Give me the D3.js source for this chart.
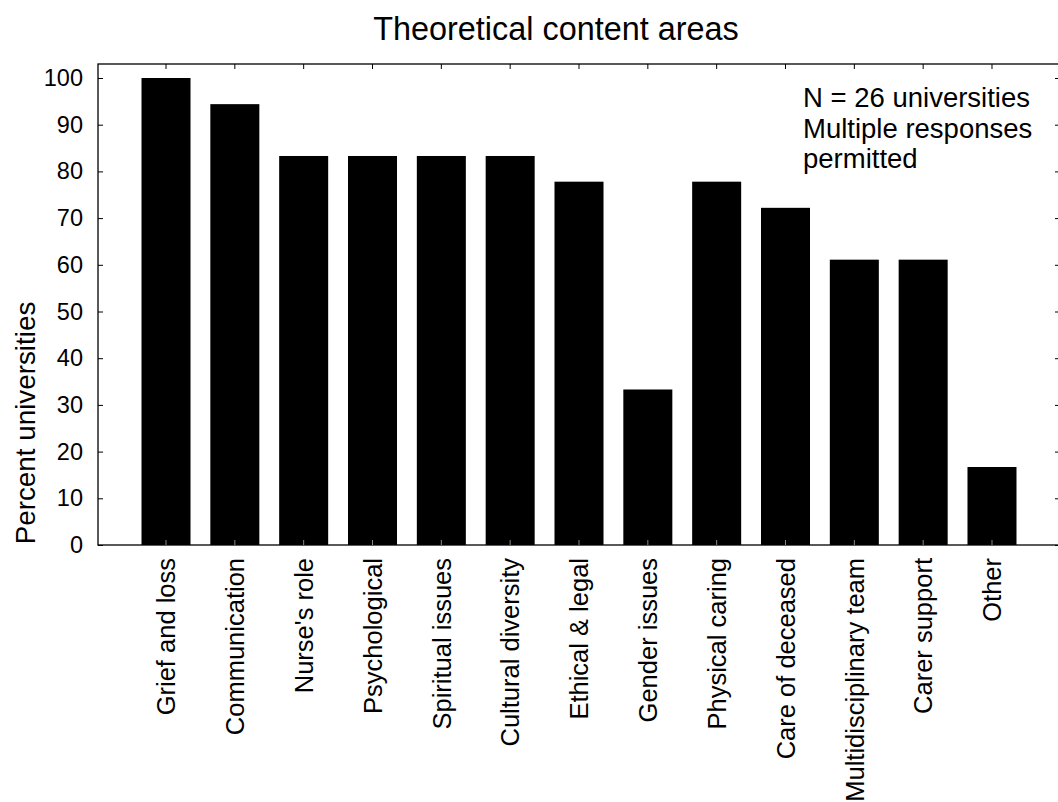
<!DOCTYPE html>
<html>
<head>
<meta charset="utf-8">
<script src="https://cdn.jsdelivr.net/npm/d3@7"></script>
<style>
  html, body { margin: 0; padding: 0; background: #fff; }
  svg { display: block; }
  text { font-family: "Liberation Sans", Arial, Helvetica, sans-serif; fill: #000; }
</style>
</head>
<body>
<svg id="chart" width="1058" height="802"></svg>
<script>
const categories = ["Grief and loss", "Communication", "Nurse's role", "Psychological",
  "Spiritual issues", "Cultural diversity", "Ethical & legal", "Gender issues",
  "Physical caring", "Care of deceased", "Multidisciplinary team", "Carer support", "Other"];
const values = [100, 94.4, 83.3, 83.3, 83.3, 83.3, 77.8, 33.3, 77.8, 72.2, 61.1, 61.1, 16.7];
const yTicks = [0, 10, 20, 30, 40, 50, 60, 70, 80, 90, 100];
const titleText = "Theoretical content areas";
const yLabel = "Percent universities";
const noteLines = ["N = 26 universities", "Multiple responses", "permitted"];

const svg = d3.select("#chart");
const plotL = 98, plotR = 1060, plotT = 64, plotB = 545;

const x = d3.scaleBand().domain(categories).range([plotL, plotR])
  .paddingInner(0.288).paddingOuter(0.632);
const y = d3.scaleLinear().domain([0, 100]).range([plotB, 78]);

// bars
svg.append("g").selectAll("rect").data(categories).join("rect")
  .attr("x", d => x(d))
  .attr("width", x.bandwidth())
  .attr("y", (d, i) => y(values[i]))
  .attr("height", (d, i) => plotB - y(values[i]))
  .attr("fill", "#000");

// frame
svg.append("rect").attr("x", plotL).attr("y", plotT)
  .attr("width", plotR - plotL).attr("height", plotB - plotT)
  .attr("fill", "none").attr("stroke", "#000").attr("stroke-width", 1.3);

// left axis (inward ticks)
const yAxisL = svg.append("g").attr("transform", `translate(${plotL},0)`)
  .call(d3.axisLeft(y).tickValues(yTicks).tickSizeInner(-5).tickSizeOuter(0).tickPadding(15));
yAxisL.select(".domain").remove();
yAxisL.selectAll("text").style("font-size", "23.5px")
  .style("font-family", '"Liberation Sans", Arial, sans-serif');
yAxisL.selectAll("line").attr("stroke", "#000");

// right axis ticks
const yAxisR = svg.append("g").attr("transform", `translate(${plotR},0)`)
  .call(d3.axisRight(y).tickValues(yTicks).tickSizeInner(-5).tickSizeOuter(0).tickFormat(""));
yAxisR.select(".domain").remove();

// top ticks
const xTop = svg.append("g").attr("transform", `translate(0,${plotT})`)
  .call(d3.axisTop(x).tickSizeInner(-5).tickSizeOuter(0).tickFormat(""));
xTop.select(".domain").remove();

// bottom ticks + labels
const xBot = svg.append("g").attr("transform", `translate(0,${plotB})`)
  .call(d3.axisBottom(x).tickSizeInner(-5).tickSizeOuter(0));
xBot.select(".domain").remove();
xBot.selectAll("line").attr("stroke", "#888");
xBot.selectAll("text")
  .style("font-size", "25.5px")
  .style("font-family", '"Liberation Sans", Arial, sans-serif')
  .attr("text-anchor", "end")
  .attr("transform", "rotate(-90)")
  .attr("x", -13)
  .attr("y", 0)
  .attr("dy", "0.36em");

// title
svg.append("text").attr("x", 556).attr("y", 40)
  .attr("text-anchor", "middle").style("font-size", "32.4px").text(titleText);

// y label
svg.append("text").attr("transform", "translate(35,423) rotate(-90)")
  .attr("text-anchor", "middle").style("font-size", "27.8px").text(yLabel);

// annotation
svg.append("g").selectAll("text").data(noteLines).join("text")
  .attr("x", 803).attr("y", (d, i) => 107 + i * 30.5)
  .style("font-size", "27.5px").text(d => d);
</script>
</body>
</html>
